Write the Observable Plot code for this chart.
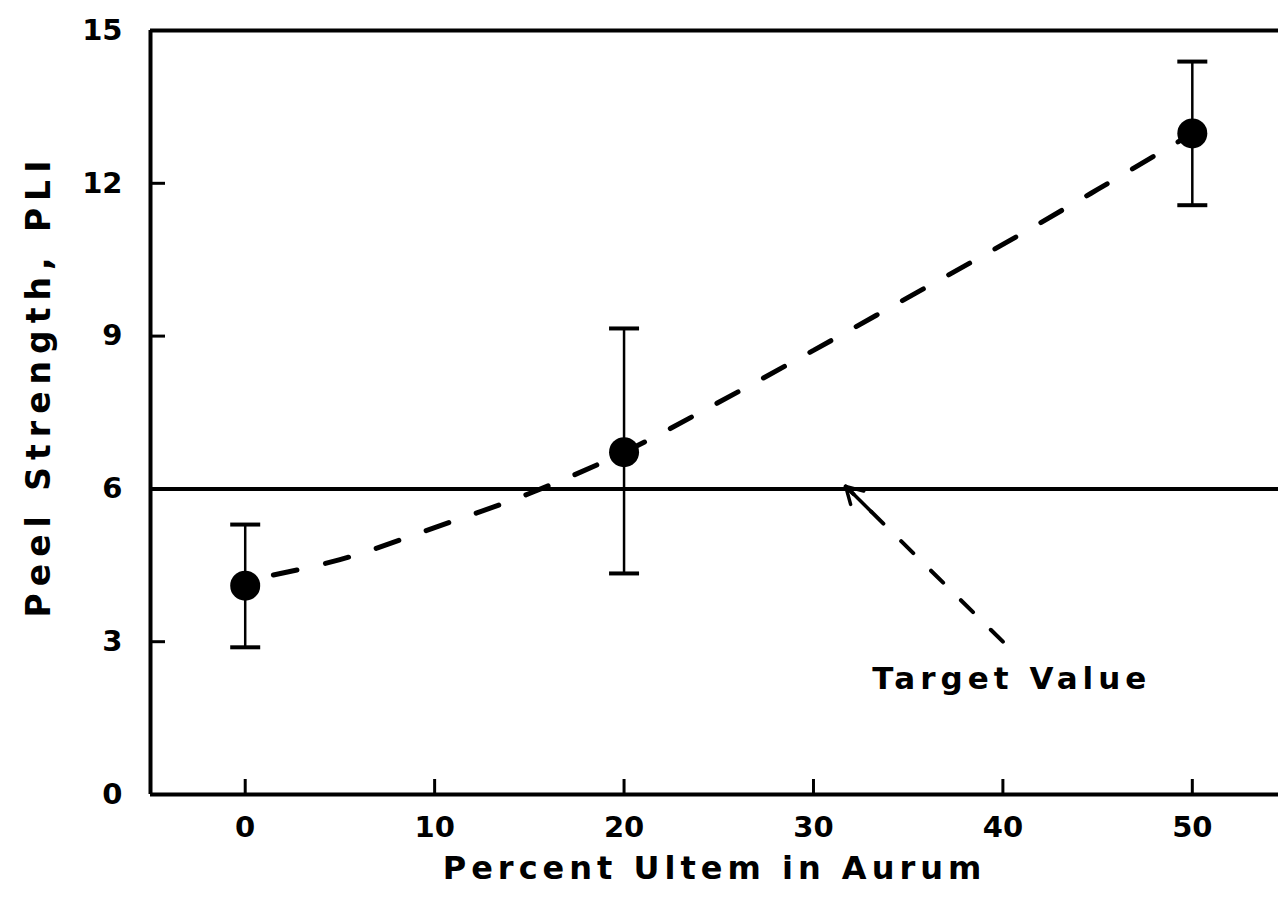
<!DOCTYPE html>
<html><head><meta charset="utf-8">
<script src="https://cdn.jsdelivr.net/npm/d3@7"></script>
<script src="https://cdn.jsdelivr.net/npm/@observablehq/plot@0.6"></script>
<style>body{margin:0;background:#fff} svg{display:block}</style>
</head><body><div id="chart"></div><script>
// ---- data ----
const xTicks = [0, 10, 20, 30, 40, 50];
const yTicks = [0, 3, 6, 9, 12, 15];
const xDomain = [-5, 54.55];
const yDomain = [0, 15];
const pct = [0, 20, 50];
const peel = [4.1, 6.72, 12.98];
const errLow = [2.89, 4.34, 11.57];
const errHigh = [5.3, 9.15, 14.39];
const trendX = [0, 5, 10, 15, 20, 25, 30, 35, 40, 45, 50];
const trendY = [4.2, 4.61, 5.24, 5.91, 6.72, 7.7, 8.72, 9.76, 10.8, 11.88, 12.98];
const targetValue = [6];
const arrowFrom = [40, 3.0];
const arrowTo = [31.7, 6.05];
const noteText = ["Target Value"];
const notePos = [33.1, 2.27];
const xTitle = ["Percent Ultem in Aurum"];
const yTitle = ["Peel Strength, PLI"];

// ---- tables built from the arrays ----
const rows = pct.map((p, i) => ({pct: p, peel: peel[i], lo: errLow[i], hi: errHigh[i]}));
const trend = trendX.map((x, i) => ({x, y: trendY[i]}));
const arrowRow = [{x1: arrowFrom[0], y1: arrowFrom[1], x2: arrowTo[0], y2: arrowTo[1]}];
const noteRow = [{x: notePos[0], y: notePos[1], t: noteText[0]}];

const capSymbol = {draw(ctx) { ctx.moveTo(-15, 0); ctx.lineTo(15, 0); }};

const chart = Plot.plot({
  width: 1278, height: 918,
  marginLeft: 150, marginRight: 0, marginTop: 30, marginBottom: 124,
  style: {fontFamily: "'DejaVu Sans', sans-serif", fontWeight: "bold", color: "#000", background: "#fff", overflow: "visible"},
  x: {domain: xDomain},
  y: {domain: yDomain},
  marks: [
    // frame (left, bottom, top)
    Plot.ruleX([xDomain[0]], {strokeWidth: 4}),
    Plot.ruleY([yDomain[0], yDomain[1]], {strokeWidth: 4}),
    // inward ticks
    Plot.axisX(xTicks, {tickSize: -15, strokeWidth: 3, fill: "none", label: null}),
    Plot.axisY(yTicks, {tickSize: -15, strokeWidth: 3, fill: "none", label: null}),
    // tick labels
    Plot.axisX(xTicks, {tickSize: 0, tickPadding: 22, fontSize: 29, tickFormat: d => String(d), label: null}),
    Plot.axisY(yTicks, {tickSize: 0, tickPadding: 28, fontSize: 29, tickFormat: d => String(d), label: null}),
    // target line
    Plot.ruleY(targetValue, {strokeWidth: 4}),
    // dashed trend
    Plot.line(trend, {x: "x", y: "y", curve: "catmull-rom", strokeWidth: 5, strokeDasharray: "24,29", strokeDashoffset: 24}),
    // error bars
    Plot.ruleX(rows, {x: "pct", y1: "lo", y2: "hi", strokeWidth: 2.5}),
    Plot.dot(rows, {x: "pct", y: "lo", symbol: capSymbol, stroke: "black", strokeWidth: 4, r: 5}),
    Plot.dot(rows, {x: "pct", y: "hi", symbol: capSymbol, stroke: "black", strokeWidth: 4, r: 5}),
    // points
    Plot.dot(rows, {x: "pct", y: "peel", r: 15, fill: "black", stroke: "none"}),
    // arrow
    Plot.link(arrowRow, {x1: "x1", y1: "y1", x2: "x2", y2: "y2", strokeWidth: 4, strokeDasharray: "17,25", strokeLinecap: "round"}),
    Plot.arrow(arrowRow, {x1: "x1", y1: "y1", x2: "x2", y2: "y2", strokeWidth: 3.5, headLength: 8, insetStart: 185}),
    Plot.text(noteRow, {x: "x", y: "y", text: "t", textAnchor: "start", fontSize: 31}),
    // titles
    Plot.text(xTitle, {frameAnchor: "bottom", dy: 84, fontSize: 32}),
    Plot.text(yTitle, {frameAnchor: "left", textAnchor: "middle", rotate: -90, dx: -111, dy: -27, fontSize: 33})
  ]
});
document.getElementById("chart").appendChild(chart);
const svg = d3.select(chart);
svg.selectAll('g[aria-label="text"] text').style("letter-spacing", "5px");
svg.selectAll('g[aria-label="text"] text').filter(function() { return this.textContent === yTitle[0]; })
  .style("letter-spacing", "7px");
svg.selectAll('g[aria-label="x-axis tick label"], g[aria-label="y-axis tick label"]')
  .attr("font-size", 29).attr("font-weight", "bold");
</script></body></html>
